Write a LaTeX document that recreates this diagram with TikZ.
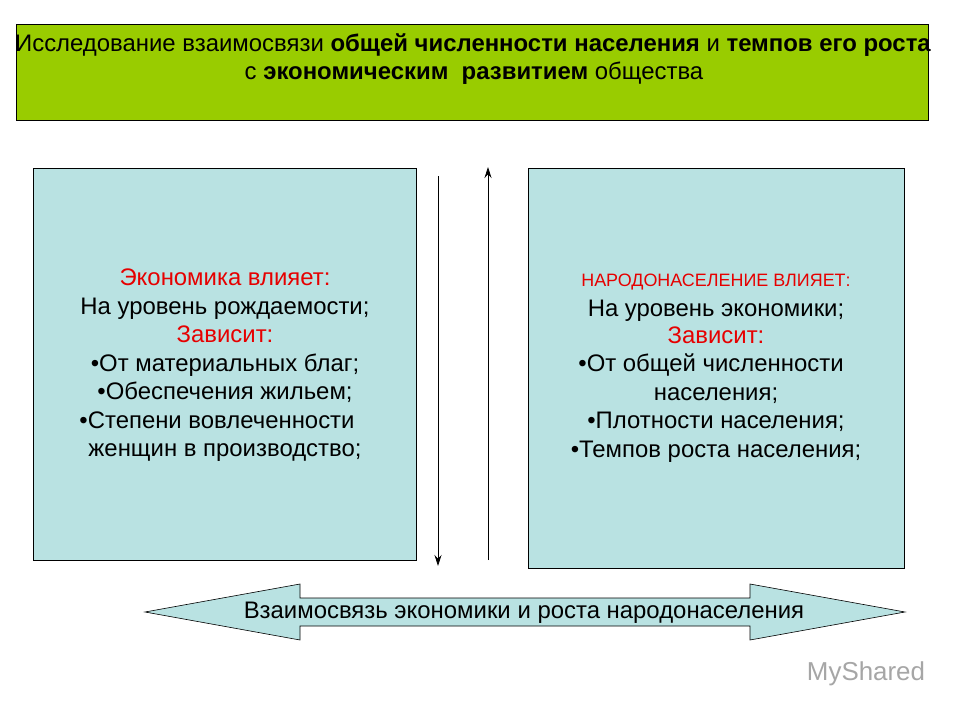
\documentclass[tikz,border=0pt]{standalone}
\usepackage{fontspec}
\usetikzlibrary{arrows.meta}
\setmainfont{Liberation Sans}
\definecolor{grn}{RGB}{153,204,0}
\definecolor{cyanbox}{RGB}{185,226,226}
\definecolor{redt}{RGB}{230,0,0}
\begin{document}
\begin{tikzpicture}[x=1bp,y=-1bp,
  box/.style={draw=black,line width=0.6bp},
  txt/.style={font=\fontsize{24}{28}\selectfont,inner sep=0,text height=17bp,text depth=5bp},
  red/.style={txt,text=redt},
  arr/.style={-{Stealth[length=11bp,width=7bp]},line width=0.8bp}]
\useasboundingbox (0,0) rectangle (960,720);
\fill[white] (0,0) rectangle (960,720);
\filldraw[box,fill=grn] (16,24) rectangle (928,120);
\node[txt] (t1) at (473,46) {Исследование взаимосвязи \textbf{общей численности населения} и \textbf{темпов его роста}};
\node[txt] (t2) at (474,74) {с \textbf{экономическим\ \ развитием} общества};
\filldraw[box,fill=cyanbox] (33,168) rectangle (416,560);
\filldraw[box,fill=cyanbox] (528,168) rectangle (904,568);
\node[red] (l1) at (225,279) {Экономика влияет:};
\node[txt] (l2) at (225,308) {На уровень рождаемости;};
\node[red] (l3) at (225,336) {Зависит:};
\node[txt] (l4) at (225,365) {•От материальных благ;};
\node[txt] (l5) at (225,393) {•Обеспечения жильем;};
\node[txt] (l6) at (217,422) {•Степени вовлеченности};
\node[txt] (l7) at (225,450) {женщин в производство;};
\node[inner sep=0,text=redt,font=\fontsize{18}{20}\selectfont,text height=13bp,text depth=4bp] (r1) at (716,282) {НАРОДОНАСЕЛЕНИЕ ВЛИЯЕТ:};
\node[txt] (r2) at (716,310) {На уровень экономики;};
\node[red] (r3) at (716,337) {Зависит:};
\node[txt] (r4) at (711,365) {•От общей численности};
\node[txt] (r5) at (716,394) {населения;};
\node[txt] (r6) at (716,422) {•Плотности населения;};
\node[txt] (r7) at (716,451) {•Темпов роста населения;};
\coordinate (d1) at (438,176); \coordinate (d2) at (438,566);
\coordinate (u1) at (488,560); \coordinate (u2) at (488,167);
\draw[arr] (d1) -- (d2);
\draw[arr] (u1) -- (u2);
\filldraw[box,fill=cyanbox] (145,612) -- (300,584) -- (300,598) -- (750,598) -- (750,584) -- (905,612) -- (750,640) -- (750,626) -- (300,626) -- (300,640) -- cycle;
\node[txt] (b) at (524,612) {Взаимосвязь экономики и роста народонаселения};
\node[inner sep=0,text=gray!70,font=\fontsize{26}{28}\selectfont] (w) at (866,674) {MyShared};
\end{tikzpicture}
\end{document}
